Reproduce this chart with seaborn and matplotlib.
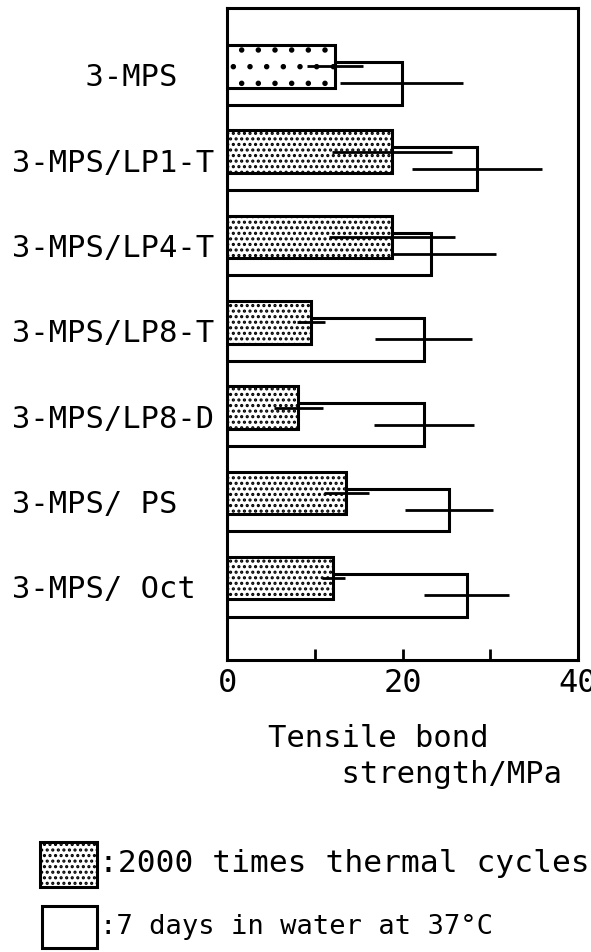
import numpy as np
import pandas as pd
import seaborn as sns
import matplotlib.pyplot as plt
from matplotlib.patches import Rectangle

labels = ['3-MPS', '3-MPS/LP1-T', '3-MPS/LP4-T', '3-MPS/LP8-T',
          '3-MPS/LP8-D', '3-MPS/ PS', '3-MPS/ Oct']
cycles = [12.3, 18.8, 18.8, 9.6, 8.1, 13.6, 12.1]
cycles_sd = [3.2, 6.8, 7.2, 1.6, 2.8, 2.6, 1.3]
water = [19.9, 28.5, 23.3, 22.4, 22.4, 25.3, 27.3]
water_sd = [7.0, 7.4, 7.3, 5.5, 5.7, 5.0, 4.8]

sns.set_theme(style='white')
plt.rcParams['font.family'] = ['DejaVu Sans Mono']
plt.rcParams['text.color'] = 'black'
plt.rcParams['axes.labelcolor'] = 'black'
plt.rcParams['xtick.color'] = 'black'
plt.rcParams['ytick.color'] = 'black'
plt.rcParams['hatch.linewidth'] = 1.5
plt.rcParams['hatch.color'] = 'black'

df = pd.DataFrame({'pos': np.arange(len(labels)), 'label': labels,
                   'cycles': cycles, 'cycles_sd': cycles_sd,
                   'water': water, 'water_sd': water_sd})
off = 0.1

fig = plt.figure(figsize=(5.91, 9.52), dpi=100)
ax = fig.add_axes([227 / 591, 1 - 660 / 952, 351 / 591, 652 / 952])

# open bars (7 days in water) sit behind the stippled ones
sns.barplot(x=df['water'], y=df['pos'] + off, orient='h', native_scale=True,
            width=0.5, color='white', saturation=1, edgecolor='black',
            linewidth=2.2, ax=ax, zorder=1)
ax.errorbar(df['water'], df['pos'] + off, xerr=df['water_sd'], fmt='none',
            ecolor='black', elinewidth=2, capsize=0, zorder=1.5)
n_open = len(ax.patches)
sns.barplot(x=df['cycles'], y=df['pos'] - off, orient='h', native_scale=True,
            width=0.5, color='white', saturation=1, edgecolor='black',
            linewidth=2.2, hatch='...', ax=ax, zorder=2)
ax.errorbar(df['cycles'], df['pos'] - off, xerr=df['cycles_sd'], fmt='none',
            ecolor='black', elinewidth=2, capsize=0, zorder=2.5)
ax.patches[n_open].set_hatch('.')

ax.set_xlim(0, 40)
ax.set_ylim(6.86, -0.785)
ax.set_xticks([0, 10, 20, 30, 40])
ax.set_xticklabels(['0', '', '20', '', '40'], fontsize=23)
ax.tick_params(axis='x', direction='in', length=8, width=2, bottom=True,
               pad=6)
ax.set_yticks(df['pos'])
ax.set_yticklabels([s if '/' in s else '    ' + s for s in labels], fontsize=22)
ax.tick_params(axis='y', length=0, pad=154.8)
plt.setp(ax.get_yticklabels(), ha='left')
ax.set_ylabel('')
ax.set_xlabel('Tensile bond\n    strength/MPa', fontsize=22, ha='left',
              x=0.117, labelpad=18, linespacing=1.3)
for s in ax.spines.values():
    s.set_linewidth(2.2)
    s.set_color('black')

# legend drawn by hand below the axes
fig.add_artist(Rectangle((40 / 591, 1 - 887 / 952), 57 / 591, 45 / 952,
                         transform=fig.transFigure, facecolor='white',
                         edgecolor='black', linewidth=2.2, hatch='...'))
fig.add_artist(Rectangle((42 / 591, 1 - 948 / 952), 55 / 591, 42 / 952,
                         transform=fig.transFigure, facecolor='white',
                         edgecolor='black', linewidth=2.2))
fig.text(99 / 591, 1 - 863 / 952, ':2000 times thermal cycles', va='center',
         fontsize=22.5)
fig.text(100 / 591, 1 - 927 / 952, ':7 days in water at 37°C', va='center',
         fontsize=19.5)

fig.savefig('out.png', dpi=100)
